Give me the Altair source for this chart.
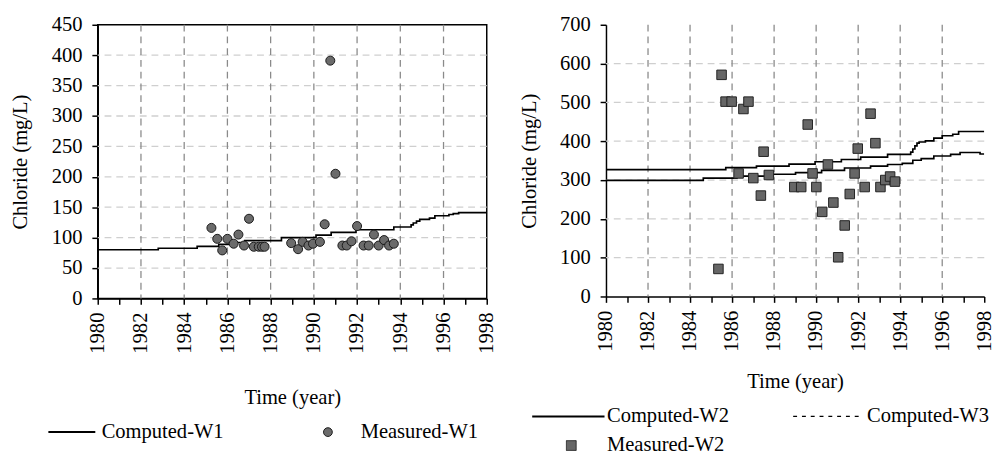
import altair as alt
import pandas as pd

FONT = "Liberation Serif"

# ---------------- Left panel (W1) ----------------
w1_meas_year = [1985.26, 1985.53, 1985.76, 1986.0, 1986.29, 1986.51, 1986.77, 1987.0,
                1987.22, 1987.45, 1987.6, 1987.72, 1988.95, 1989.27, 1989.48, 1989.75,
                1989.96, 1990.28, 1990.5, 1990.76, 1991.0, 1991.32, 1991.52, 1991.74,
                1992.0, 1992.3, 1992.54, 1992.78, 1993.0, 1993.25, 1993.48, 1993.7]
w1_meas_val = [116, 98, 79, 98, 90, 105, 87, 131,
               85, 85, 85, 85, 91, 81, 93, 87,
               90, 93, 122, 391, 205, 87, 87, 94,
               119, 87, 87, 105, 87, 96, 87, 90]

w1_comp_year = [1980.0, 1982.8, 1984.6, 1985.6, 1986.4, 1986.8, 1988.5, 1990.1, 1990.8,
                1991.95, 1993.7, 1994.5, 1994.6, 1994.75, 1994.9, 1995.35, 1995.6,
                1996.25, 1996.45, 1996.7, 1998.0]
w1_comp_val = [80, 82.5, 85.5, 89, 92, 95, 100, 104, 108.5,
               113, 117.5, 121, 124, 127, 130, 132, 136,
               138, 139.5, 141, 141]

# ---------------- Right panel (W2, W3) ----------------
w2_meas_year = [1985.35, 1985.5, 1985.69, 1985.98, 1986.31, 1986.54, 1986.78, 1987.01,
                1987.37, 1987.5, 1987.75, 1988.96, 1989.29, 1989.6, 1989.83, 1990.01,
                1990.29, 1990.56, 1990.82, 1991.05, 1991.36, 1991.6, 1991.83, 1991.98,
                1992.31, 1992.59, 1992.82, 1993.06, 1993.29, 1993.52, 1993.75]
w2_meas_val = [71, 571, 502, 502, 317, 483, 502, 305,
               260, 373, 313, 282, 282, 443, 317, 282,
               218, 340, 242, 101, 183, 264, 317, 381,
               282, 471, 395, 282, 300, 309, 296]

w2_comp_year = [1980.0, 1985.7, 1987.16, 1988.71, 1989.95, 1991.2, 1992.12, 1993.4,
                1994.5, 1994.6, 1994.7, 1994.8, 1994.9, 1995.2, 1995.6, 1996.0,
                1996.5, 1996.78, 1998.0]
w2_comp_val = [327, 332, 336, 341, 347, 353, 359, 366,
               372, 380, 388, 395, 398, 401, 408, 414,
               418, 425, 425]

w3_comp_year = [1980.0, 1984.63, 1986.23, 1987.94, 1989.02, 1990.26, 1991.35, 1992.59,
                1993.4, 1994.1, 1994.6, 1995.0, 1995.6, 1996.4, 1996.85, 1997.8, 1998.0]
w3_comp_val = [299, 305, 310, 315, 319, 325, 331, 336,
               340, 343, 351, 355, 362, 366, 371, 367, 367]

years_axis = list(range(1980, 1999))
grid_years = list(range(1982, 1998, 2))
left_ticks = list(range(0, 451, 50))
left_grid = list(range(50, 450, 50))
right_ticks = list(range(0, 701, 100))
right_grid = list(range(100, 700, 100))

series_left = ["Computed-W1", "Measured-W1"]
series_right = ["Computed-W2", "Computed-W3", "Measured-W2"]

df_m1 = pd.DataFrame({"year": w1_meas_year, "value": w1_meas_val})
df_c1 = pd.DataFrame({"year": w1_comp_year, "value": w1_comp_val})
df_m2 = pd.DataFrame({"year": w2_meas_year, "value": w2_meas_val})
df_c2 = pd.DataFrame({"year": w2_comp_year, "value": w2_comp_val})
df_c3 = pd.DataFrame({"year": w3_comp_year, "value": w3_comp_val})
df_leg1 = pd.DataFrame({"series": series_left, "year": 1980, "value": 0})
df_leg2 = pd.DataFrame({"series": series_right, "year": 1980, "value": 0})
df_vgrid = pd.DataFrame({"year": grid_years})
df_hgrid1 = pd.DataFrame({"value": left_grid})
df_hgrid2 = pd.DataFrame({"value": right_grid})

AX = dict(labelFont=FONT, titleFont=FONT, labelFontSize=21, titleFontSize=21, titleFontWeight="normal",
          labelFontWeight="normal", labelColor="black", titleColor="black", domainColor="black",
          tickColor="black", domainWidth=1.5, tickWidth=1.5, tickSize=6)


def x_enc(title_pad):
    return alt.X(
        "year:Q",
        scale=alt.Scale(domain=[1980, 1998], nice=False, zero=False),
        axis=alt.Axis(
            values=years_axis,
            format="d",
            labelExpr="datum.value % 2 == 0 ? datum.label : ''",
            labelAngle=-90,
            labelPadding=8,
            labelFlush=False,
            labelOverlap=False,
            grid=False,
            title="Time (year)",
            titlePadding=title_pad,
            **AX,
        ),
    )


def y_enc(top, ticks):
    return alt.Y(
        "value:Q",
        scale=alt.Scale(domain=[0, top], nice=False, zero=True),
        axis=alt.Axis(
            values=ticks,
            grid=False,
            labelPadding=10,
            title="Chloride (mg/L)",
            titlePadding=21,
            **AX,
        ),
    )


def grid_layers(xpad, top, ticks, hgrid_df):
    v = alt.Chart(df_vgrid).mark_rule(color="#8a8a8a", strokeWidth=1.3, strokeDash=[7, 5]).encode(
        x=x_enc(xpad))
    h = alt.Chart(hgrid_df).mark_rule(color="#cfcfcf", strokeWidth=1.3, strokeDash=[7, 5]).encode(
        y=y_enc(top, ticks))
    return [h, v]


# ---- left chart ----
leg1 = alt.Legend(title=None, orient="none", legendX=-18, legendY=406, direction="horizontal",
                  columns=2, columnPadding=100, labelFont=FONT, labelFontSize=21, labelColor="black",
                  labelOffset=1, padding=0, symbolSize=100)

line1 = alt.Chart(df_c1).mark_line(interpolate="step-after", color="black", strokeWidth=1.7, clip=True).encode(
    x=x_enc(35), y=y_enc(450, left_ticks))

pts1 = alt.Chart(df_m1).mark_point(filled=True, opacity=1, shape="circle", size=85, fill="#6b6b6b",
                                   stroke="#1a1a1a", strokeWidth=1).encode(
    x=x_enc(35), y=y_enc(450, left_ticks))

legend1 = alt.Chart(df_leg1).transform_filter("false").mark_point(filled=True, opacity=1, size=100).encode(
    x=x_enc(35), y=y_enc(450, left_ticks),
    shape=alt.Shape("series:N", scale=alt.Scale(
        domain=series_left,
        range=["M-8.6,0H1", "M-5.3,0A0.9,0.9 0 1,0 -3.5,0A0.9,0.9 0 1,0 -5.3,0Z"]), legend=leg1),
    fill=alt.Fill("series:N", scale=alt.Scale(domain=series_left, range=["transparent", "#6b6b6b"]),
                  legend=leg1),
    stroke=alt.Stroke("series:N", scale=alt.Scale(domain=series_left, range=["black", "#1a1a1a"]),
                      legend=leg1),
    strokeWidth=alt.StrokeWidth("series:N", scale=alt.Scale(type="ordinal", domain=series_left, range=[2, 1]),
                                legend=leg1),
)

left = alt.layer(*grid_layers(35, 450, left_ticks, df_hgrid1), line1, pts1, legend1).properties(
    width=398, height=280,
    view=alt.ViewBackground(stroke="black", strokeWidth=1.5),
)

# ---- right chart ----
leg2 = alt.Legend(title=None, orient="none", legendX=-20, legendY=390, direction="horizontal",
                  columns=2, columnPadding=62, rowPadding=8, labelFont=FONT, labelFontSize=21,
                  labelColor="black", labelOffset=0, padding=0, symbolSize=100)

line2 = alt.Chart(df_c2).mark_line(interpolate="step-after", color="black", strokeWidth=1.7, clip=True).encode(
    x=x_enc(20), y=y_enc(700, right_ticks))
line3 = alt.Chart(df_c3).mark_line(interpolate="step-after", color="black", strokeWidth=1.7, clip=True).encode(
    x=x_enc(20), y=y_enc(700, right_ticks))

pts2 = alt.Chart(df_m2).mark_point(filled=True, opacity=1, shape="square", size=95, fill="#666666",
                                   stroke="#222222", strokeWidth=1).encode(
    x=x_enc(20), y=y_enc(700, right_ticks))

legend2 = alt.Chart(df_leg2).transform_filter("false").mark_point(filled=True, opacity=1, size=100).encode(
    x=x_enc(20), y=y_enc(700, right_ticks),
    shape=alt.Shape("series:N", scale=alt.Scale(
        domain=series_right,
        range=["M-13.2,0H1.6", "M-13,0H0.4", "M-13.2,0M-6.2,-1H-4.2V1H-6.2Z"]), legend=leg2),
    fill=alt.Fill("series:N", scale=alt.Scale(domain=series_right, range=["transparent", "transparent", "#666666"]),
                  legend=leg2),
    stroke=alt.Stroke("series:N", scale=alt.Scale(domain=series_right, range=["black", "black", "#222222"]),
                      legend=leg2),
    strokeWidth=alt.StrokeWidth("series:N", scale=alt.Scale(type="ordinal", domain=series_right,
                                                            range=[2, 1.3, 1]), legend=leg2),
    strokeDash=alt.StrokeDash("series:N", scale=alt.Scale(domain=series_right, range=[[1, 0], [4, 5], [1, 0]]),
                              legend=leg2),
)

right = alt.layer(*grid_layers(20, 700, right_ticks, df_hgrid2), line2, line3, pts2, legend2).properties(
    width=387, height=278)

chart = alt.hconcat(left, right, spacing=21).resolve_scale(
    shape="independent", fill="independent", stroke="independent",
    strokeWidth="independent", strokeDash="independent", x="independent", y="independent",
).resolve_legend(
    shape="independent", fill="independent", stroke="independent",
    strokeWidth="independent", strokeDash="independent",
).properties(
    padding={"left": 9, "top": 8, "right": 0, "bottom": 0},
    background="white",
).configure(
    font=FONT
).configure_view(
    stroke="transparent"
).configure_axis(
    **AX
)

chart.save("out.html", embed_options={"renderer": "svg", "actions": False})
